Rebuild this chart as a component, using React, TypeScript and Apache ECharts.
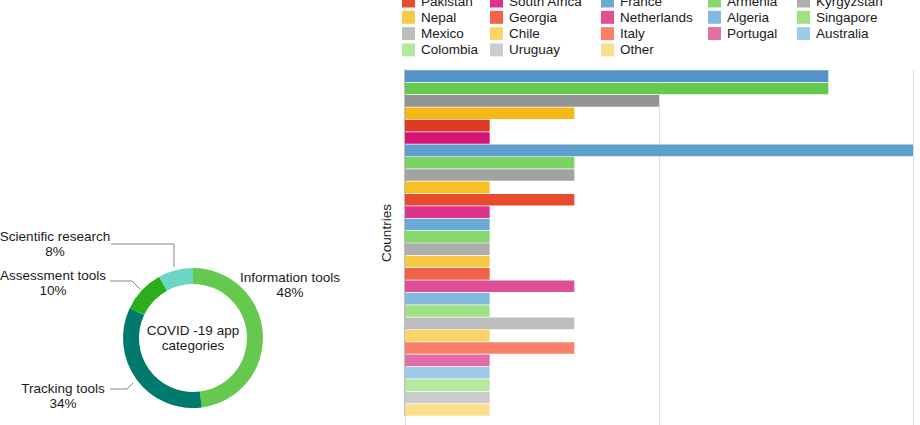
import React, { useEffect, useRef } from "react";
import * as echarts from "echarts";

const countries = [
  "United States", "India", "United Kingdom", "Spain", "Germany", "Brazil",
  "China", "Ireland", "Israel", "Austria",
  "Pakistan", "South Africa", "France", "Armenia", "Kyrgyzstan",
  "Nepal", "Georgia", "Netherlands", "Algeria", "Singapore",
  "Mexico", "Chile", "Italy", "Portugal", "Australia",
  "Colombia", "Uruguay", "Other",
];
const appCounts = [5, 5, 3, 2, 1, 1, 6, 2, 2, 1, 2, 1, 1, 1, 1, 1, 1, 2, 1, 1, 2, 1, 2, 1, 1, 1, 1, 1];
const countryColors = [
  "#5393c9", "#66c94f", "#939393", "#f5b915", "#e03a22", "#d61478",
  "#5f9fce", "#78d264", "#a2a2a2", "#f7c125", "#e84c30", "#dc348a",
  "#6aaad6", "#88d86f", "#aeaeae", "#f7ca45", "#f0634a", "#df4f96",
  "#82bade", "#9ee283", "#bdbdbd", "#fbd569", "#fa806c", "#e36fa8",
  "#9dcbe8", "#b3e99e", "#cccccc", "#f9df8b",
];
const legendColumns = [
  ["Pakistan", "Nepal", "Mexico", "Colombia"],
  ["South Africa", "Georgia", "Chile", "Uruguay"],
  ["France", "Netherlands", "Italy", "Other"],
  ["Armenia", "Algeria", "Portugal"],
  ["Kyrgyzstan", "Singapore", "Australia"],
];
const legendLefts = [402, 490, 601, 708, 797];

const categoryNames = ["Information tools", "Tracking tools", "Assessment tools", "Scientific research"];
const categoryCounts = [24, 17, 5, 4];
const categoryColors = ["#66c94f", "#017a6e", "#2aae1c", "#6dd6c3"];

const FONT = "'Liberation Sans', Arial, Helvetica, sans-serif";
const FS = 13.5;

const labelPos: Record<string, { x: number; y: number; line?: number[][] }> = {
  "Information tools": { x: 290, y: 285 },
  "Tracking tools": { x: 63, y: 396, line: [[133, 383], [127, 389], [110, 389]] },
  "Assessment tools": { x: 53, y: 283, line: [[140, 289], [132, 281], [110, 281]] },
  "Scientific research": { x: 55, y: 244, line: [[174, 267], [174, 244], [111, 244]] },
};

export default function App() {
  const ref = useRef<HTMLDivElement>(null);
  useEffect(() => {
    if (!ref.current) return;
    const chart = echarts.init(ref.current, null, { renderer: "svg" });
    const barSeries = countries.map((name, i) => ({
      type: "bar",
      name,
      stack: "all",
      barCategoryGap: "6%",
      itemStyle: { color: countryColors[i] },
      data: countries.map((_, j) => (j === i ? appCounts[i] : null)),
    }));
    const option: any = {
      animation: false,
      textStyle: { fontFamily: FONT },
      legend: legendColumns.map((col, k) => ({
        orient: "vertical",
        left: legendLefts[k],
        top: -6,
        padding: 0,
        itemWidth: 13,
        itemHeight: 13,
        itemGap: 2.3,
        icon: "rect",
        selectedMode: false,
        data: col,
        textStyle: { fontFamily: FONT, fontSize: FS, color: "#1a1a1a", lineHeight: 13, padding: [0, 0, 0, 1] },
      })),
      grid: { left: 405, right: 7, top: 70, bottom: 9, containLabel: false },
      xAxis: {
        type: "value",
        min: 0,
        max: 6,
        interval: 3,
        axisLabel: { show: false },
        axisLine: { show: false },
        axisTick: { show: true, length: 10, lineStyle: { color: "#dddddd" } },
        splitLine: { show: true, lineStyle: { color: "#dddddd", width: 1 } },
      },
      yAxis: {
        type: "category",
        inverse: true,
        data: countries,
        name: "Countries",
        nameLocation: "middle",
        nameGap: 12,
        nameRotate: 90,
        nameTextStyle: { fontFamily: FONT, fontSize: FS, color: "#1a1a1a", padding: [0, 0, 0, 20] },
        axisLabel: { show: false },
        axisTick: { show: false },
        axisLine: { show: true, lineStyle: { color: "#aaaaaa", width: 1.5 } },
      },
      series: [
        ...barSeries,
        {
          type: "pie",
          center: [193, 338],
          radius: [54, 70],
          startAngle: 90,
          clockwise: true,
          avoidLabelOverlap: false,
          data: categoryNames.map((name, i) => ({
            name,
            value: categoryCounts[i],
            itemStyle: { color: categoryColors[i] },
            labelLine: { show: name !== "Information tools" },
          })),
          label: {
            show: true,
            formatter: "{b}\n{d}%",
            fontFamily: FONT,
            fontSize: FS,
            lineHeight: 15,
            color: "#1a1a1a",
            align: "center",
          },
          labelLine: { show: true, lineStyle: { color: "#888888", width: 1 } },
          labelLayout: (params: any) => {
            const name = categoryNames[params.dataIndex];
            const p = labelPos[name];
            const res: any = { x: p.x, y: p.y, align: "center", verticalAlign: "middle" };
            if (p.line) res.labelLinePoints = p.line;
            return res;
          },
        },
      ],
      graphic: [
        {
          type: "text",
          x: 193,
          y: 338,
          style: {
            text: "COVID -19 app\ncategories",
            font: `${FS}px ${FONT}`,
            fill: "#1a1a1a",
            align: "center",
            verticalAlign: "middle",
            lineHeight: 15,
          },
        },
      ],
    };
    chart.setOption(option);
    return () => chart.dispose();
  }, []);
  return (
    <div
      ref={ref}
      style={{ position: "fixed", left: 0, top: 0, width: 920, height: 425, background: "#fff" }}
    />
  );
}
